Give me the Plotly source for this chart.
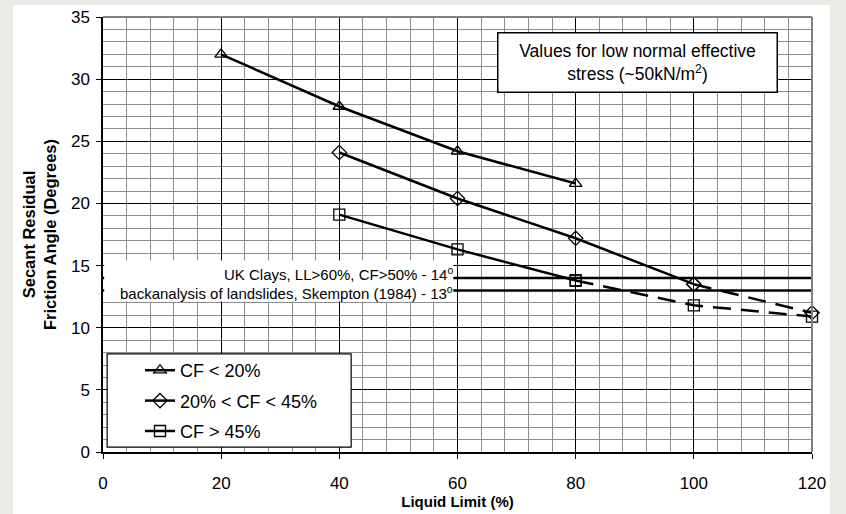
import plotly.graph_objects as go

# Liquid limit (%) and secant residual friction angle (degrees) per clay-fraction group
ll_cf_lt20 = [20, 40, 60, 80]
phi_cf_lt20 = [32.0, 27.8, 24.2, 21.6]

ll_cf_20_45 = [40, 60, 80, 100, 120]
phi_cf_20_45 = [24.1, 20.4, 17.2, 13.5, 11.2]
dash_from_20_45 = 3  # extrapolated beyond LL = 100

ll_cf_gt45 = [40, 60, 80, 100, 120]
phi_cf_gt45 = [19.1, 16.3, 13.8, 11.8, 10.9]
dash_from_gt45 = 2  # extrapolated beyond LL = 80

# Reference residual angles
ref_labels = ["UK Clays, LL>60%, CF>50% - 14<sup>o</sup>",
              "backanalysis of landslides, Skempton (1984) - 13<sup>o</sup>"]
ref_phi = [14, 13]

series_names = ["CF < 20%", "20% < CF < 45%", "CF > 45%"]
x_ticks = [0, 20, 40, 60, 80, 100, 120]
y_ticks = [0, 5, 10, 15, 20, 25, 30, 35]

FONT = "Liberation Sans, Arial, sans-serif"
LINE_W = 2.5
MSIZE = 11

fig = go.Figure()

# reference horizontal lines
for phi in ref_phi:
    fig.add_trace(go.Scatter(x=[0, 120], y=[phi, phi], mode="lines",
                             line=dict(color="black", width=2.5),
                             showlegend=False, hoverinfo="skip"))


def add_series(xs, ys, name, symbol, dash_from, group):
    # solid measured part, dashed extrapolation from index dash_from onwards
    end = len(xs) if dash_from is None else dash_from + 1
    marker = dict(symbol=symbol, size=MSIZE, color="black",
                  line=dict(color="black", width=1.3))
    fig.add_trace(go.Scatter(
        x=xs[:end], y=ys[:end], mode="lines+markers", name=name,
        legendgroup=group, line=dict(color="black", width=LINE_W),
        marker=marker, cliponaxis=False))
    if dash_from is not None:
        fig.add_trace(go.Scatter(
            x=xs[dash_from:], y=ys[dash_from:], mode="lines+markers",
            legendgroup=group, showlegend=False,
            line=dict(color="black", width=LINE_W, dash="18px,10px"),
            marker=marker, cliponaxis=False))


add_series(ll_cf_lt20, phi_cf_lt20, series_names[0], "triangle-up-open", None, "a")
add_series(ll_cf_20_45, phi_cf_20_45, series_names[1], "diamond-open", dash_from_20_45, "b")
add_series(ll_cf_gt45, phi_cf_gt45, series_names[2], "square-open", dash_from_gt45, "c")

shapes = [
    # white panel behind the chart
    dict(type="rect", xref="paper", yref="paper", x0=-0.127, x1=1.0254,
         y0=-0.2, y1=1.0276, fillcolor="white", line=dict(width=0), layer="below"),
    # box behind the reference-line labels
    dict(type="rect", xref="x", yref="y", x0=0.2, x1=59.3, y0=12.1, y1=15.4,
         fillcolor="white", line=dict(width=0), layer="above"),
    # legend frame
    dict(type="rect", xref="x", yref="y", x0=0.7, x1=42.0, y0=0.4, y1=7.9,
         fillcolor="white", line=dict(color="black", width=1.2), layer="above"),
    # gray top / right frame
    dict(type="line", xref="paper", yref="paper", x0=0, x1=1, y0=1, y1=1,
         line=dict(color="#808080", width=2), layer="above"),
    dict(type="line", xref="paper", yref="paper", x0=1, x1=1, y0=0, y1=1,
         line=dict(color="#808080", width=2), layer="above"),
]

annotations = [
    dict(x=90.4, y=31.3, xref="x", yref="y",
         text="Values for low normal effective<br>stress (~50kN/m<sup>2</sup>)",
         showarrow=False, align="center", width=276, height=56,
         bgcolor="white", bordercolor="black", borderwidth=1.5, borderpad=1,
         font=dict(family=FONT, size=17.5, color="black")),
]
for txt, yv in zip(ref_labels, [14.4, 12.8]):
    annotations.append(dict(x=59.6, y=yv, xref="x", yref="y", text=txt,
                            showarrow=False, xanchor="right", yanchor="middle",
                            font=dict(family=FONT, size=15, color="black")))

fig.update_layout(
    width=846, height=514,
    margin=dict(l=103, r=34, t=17, b=62),
    paper_bgcolor="#ebeae5", plot_bgcolor="white",
    font=dict(family=FONT, color="black"),
    shapes=shapes, annotations=annotations,
    showlegend=True,
    legend=dict(x=(140 - 103) / 709, y=(452 - 352) / 435, xanchor="left", yanchor="top",
                bgcolor="rgba(0,0,0,0)", borderwidth=0,
                font=dict(family=FONT, size=18, color="black"),
                traceorder="grouped", tracegroupgap=4),
)

fig.update_xaxes(
    range=[0, 120], tickvals=x_ticks, showgrid=True, gridcolor="black", gridwidth=1,
    minor=dict(dtick=4, tick0=0, showgrid=True, gridcolor="#8c8c8c", gridwidth=1),
    showline=True, linecolor="black", linewidth=1.5, zeroline=False,
    ticks="outside", ticklen=5, tickcolor="black", tickwidth=1.2,
    ticklabelstandoff=10, automargin=False,
    tickfont=dict(family=FONT, size=17, color="black"),
    title=dict(text="<b>Liquid Limit (%)</b>", font=dict(family=FONT, size=15, color="black"),
               standoff=0),
)
fig.update_yaxes(
    range=[0, 35], tickvals=y_ticks, showgrid=True, gridcolor="black", gridwidth=1,
    minor=dict(dtick=1, tick0=0, showgrid=True, gridcolor="#8c8c8c", gridwidth=1),
    showline=True, linecolor="black", linewidth=1.5, zeroline=False,
    ticks="outside", ticklen=5, tickcolor="black", tickwidth=1.2,
    ticklabelstandoff=3, automargin=False,
    tickfont=dict(family=FONT, size=17, color="black"),
    title=dict(text="<b>Secant Residual<br>Friction Angle (Degrees)</b>",
               font=dict(family=FONT, size=16.5, color="black"), standoff=10),
)

fig.write_html("out.html")
